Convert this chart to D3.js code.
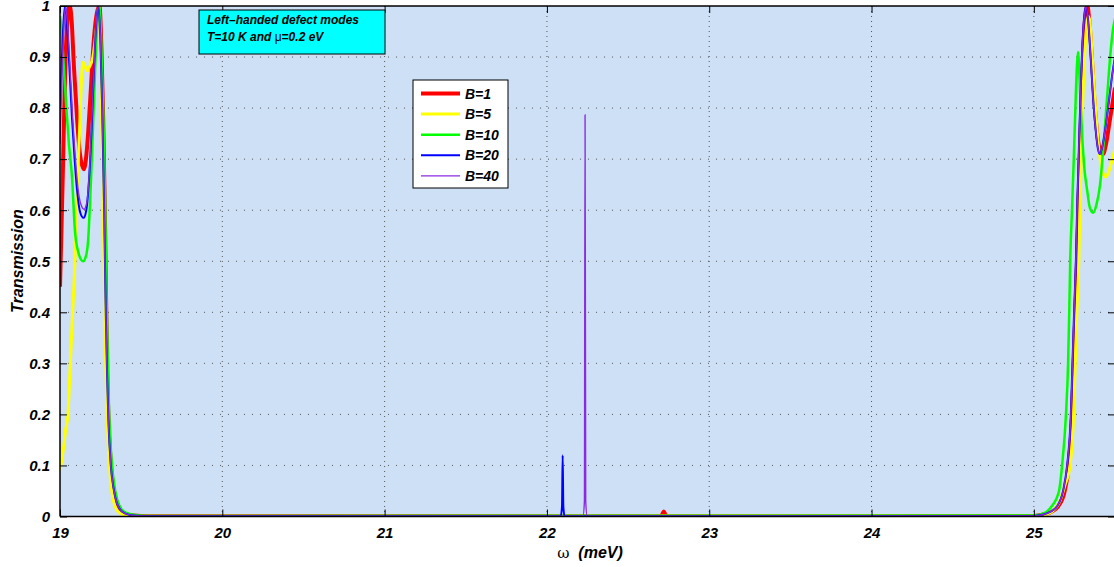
<!DOCTYPE html>
<meta charset="utf-8">
<style>
body { margin: 0; background: #fff; }
text { font-family: "Liberation Sans", Arial, sans-serif; }
</style>
<body>
<script src="https://cdn.jsdelivr.net/npm/d3@7"></script>
<script>
// transmission curves, [omega (meV), T]
var b1 = [[19.0,0.45],[19.008,0.55],[19.018,0.68],[19.03,0.85],[19.045,0.97],[19.06,1.0],[19.072,0.97],[19.086,0.88],[19.105,0.78],[19.123,0.71],[19.148,0.68],[19.166,0.72],[19.185,0.81],[19.21,0.94],[19.243,1.0],[19.255,0.92],[19.266,0.78],[19.277,0.58],[19.285,0.40],[19.292,0.27],[19.30,0.18],[19.314,0.10],[19.33,0.055],[19.35,0.028],[19.37,0.014],[19.40,0.006],[19.45,0.002],[19.55,0.0005],[22.70,0.0005],[22.712,0.005],[22.72,0.01],[22.728,0.005],[22.74,0.0005],[25.0,0.001],[25.06,0.004],[25.10,0.008],[25.15,0.02],[25.19,0.05],[25.215,0.10],[25.236,0.2],[25.246,0.3],[25.256,0.4],[25.266,0.5],[25.276,0.62],[25.292,0.8],[25.307,0.93],[25.32,0.99],[25.33,1.0],[25.342,0.97],[25.357,0.9],[25.372,0.82],[25.387,0.76],[25.405,0.72],[25.426,0.71],[25.445,0.73],[25.465,0.77],[25.485,0.81],[25.50,0.84]];
var b5 = [[19.0,0.09],[19.02,0.13],[19.035,0.17],[19.049,0.2],[19.062,0.29],[19.075,0.38],[19.092,0.5],[19.105,0.63],[19.123,0.78],[19.135,0.87],[19.142,0.89],[19.15,0.885],[19.167,0.873],[19.18,0.88],[19.203,0.9],[19.222,0.95],[19.234,0.99],[19.24,1.0],[19.25,0.9],[19.26,0.72],[19.27,0.52],[19.28,0.32],[19.29,0.2],[19.30,0.12],[19.315,0.06],[19.33,0.03],[19.35,0.013],[19.38,0.005],[19.43,0.001],[19.5,0.0003],[25.0,0.001],[25.06,0.003],[25.12,0.012],[25.16,0.03],[25.19,0.06],[25.223,0.1],[25.245,0.2],[25.255,0.3],[25.265,0.4],[25.277,0.5],[25.285,0.62],[25.30,0.8],[25.318,0.93],[25.335,0.98],[25.345,0.97],[25.36,0.9],[25.38,0.8],[25.40,0.72],[25.42,0.68],[25.439,0.665],[25.455,0.67],[25.475,0.69],[25.50,0.72]];
var b10 = [[19.0,0.98],[19.008,0.96],[19.02,0.9],[19.037,0.81],[19.055,0.73],[19.074,0.665],[19.092,0.56],[19.111,0.52],[19.142,0.5],[19.16,0.51],[19.173,0.54],[19.191,0.66],[19.21,0.82],[19.225,0.94],[19.242,1.0],[19.254,0.93],[19.266,0.8],[19.278,0.62],[19.287,0.43],[19.295,0.3],[19.303,0.2],[19.318,0.11],[19.335,0.06],[19.355,0.03],[19.375,0.016],[19.41,0.007],[19.46,0.003],[19.55,0.001],[25.0,0.002],[25.06,0.006],[25.11,0.02],[25.155,0.05],[25.174,0.1],[25.198,0.2],[25.211,0.3],[25.218,0.4],[25.224,0.5],[25.235,0.6],[25.246,0.7],[25.256,0.8],[25.265,0.88],[25.272,0.91],[25.285,0.83],[25.297,0.75],[25.312,0.68],[25.328,0.64],[25.345,0.605],[25.365,0.595],[25.385,0.61],[25.408,0.65],[25.43,0.73],[25.451,0.82],[25.47,0.9],[25.488,0.955],[25.50,0.975]];
var b20 = [[19.0,0.8],[19.012,0.9],[19.022,0.97],[19.031,1.0],[19.042,0.97],[19.058,0.88],[19.074,0.78],[19.09,0.70],[19.105,0.64],[19.125,0.595],[19.145,0.585],[19.162,0.6],[19.179,0.66],[19.195,0.76],[19.21,0.88],[19.222,0.96],[19.236,1.0],[19.248,0.94],[19.26,0.8],[19.272,0.6],[19.282,0.4],[19.29,0.28],[19.298,0.19],[19.313,0.1],[19.33,0.055],[19.35,0.027],[19.37,0.014],[19.40,0.006],[19.45,0.002],[19.55,0.0005],[22.085,0.0005],[22.093,0.02],[22.097,0.12],[22.101,0.02],[22.109,0.0005],[25.0,0.001],[25.06,0.004],[25.10,0.009],[25.143,0.02],[25.18,0.05],[25.205,0.10],[25.228,0.2],[25.238,0.3],[25.248,0.4],[25.259,0.5],[25.268,0.62],[25.285,0.8],[25.30,0.93],[25.315,0.99],[25.322,1.0],[25.335,0.97],[25.35,0.9],[25.365,0.82],[25.38,0.76],[25.395,0.72],[25.408,0.71],[25.425,0.73],[25.445,0.77],[25.465,0.82],[25.485,0.87],[25.50,0.9]];
var b40 = [[19.0,0.73],[19.012,0.86],[19.024,0.96],[19.034,1.0],[19.045,0.97],[19.06,0.89],[19.078,0.78],[19.095,0.70],[19.11,0.645],[19.13,0.61],[19.148,0.602],[19.165,0.615],[19.18,0.67],[19.195,0.77],[19.21,0.88],[19.222,0.96],[19.236,1.0],[19.248,0.94],[19.26,0.8],[19.272,0.6],[19.282,0.4],[19.29,0.28],[19.298,0.19],[19.313,0.1],[19.33,0.055],[19.35,0.027],[19.37,0.014],[19.40,0.006],[19.45,0.002],[19.55,0.0005],[22.222,0.0005],[22.231,0.03],[22.235,0.787],[22.239,0.03],[22.248,0.0005],[25.0,0.001],[25.06,0.004],[25.10,0.009],[25.143,0.02],[25.18,0.05],[25.205,0.10],[25.228,0.2],[25.238,0.3],[25.248,0.4],[25.259,0.5],[25.268,0.62],[25.285,0.8],[25.30,0.93],[25.315,0.99],[25.322,1.0],[25.335,0.97],[25.35,0.9],[25.365,0.82],[25.38,0.76],[25.395,0.72],[25.408,0.71],[25.425,0.73],[25.445,0.77],[25.465,0.82],[25.485,0.87],[25.50,0.9]];

var seriesNames = ["B=1", "B=5", "B=10", "B=20", "B=40"];
var xTicks = [19, 20, 21, 22, 23, 24, 25];
var yTicks = [0, 0.1, 0.2, 0.3, 0.4, 0.5, 0.6, 0.7, 0.8, 0.9, 1];

var colors = ["#ff0000", "#ffff00", "#00ff00", "#0000ff", "#8a2be2"],
	widths = [4, 3, 2.5, 2, 1.4];

var width = 1114,
	height = 567,
	pLeft = 60,
	pTop = 6,
	pRight = 1115,
	pBottom = 516.5;

var svg = d3.select("body").append("svg")
			.attr("width", width)
			.attr("height", height);

var x = d3.scaleLinear().domain([19, 25.5]).range([pLeft, pRight]),
	y = d3.scaleLinear().domain([0, 1]).range([pBottom, pTop]);

svg.append("defs").append("clipPath").attr("id", "clip")
	.append("rect")
	.attr("x", pLeft).attr("y", pTop)
	.attr("width", pRight - pLeft).attr("height", pBottom - pTop);

svg.append("rect")
	.attr("x", pLeft).attr("y", pTop)
	.attr("width", pRight - pLeft).attr("height", pBottom - pTop)
	.style("fill", "#cde0f6");

// dotted grid
var grid = svg.append("g");
grid.selectAll(".gx").data(xTicks.slice(1)).enter().append("line")
	.attr("x1", d => x(d)).attr("x2", d => x(d))
	.attr("y1", pTop).attr("y2", pBottom)
	.style("stroke", "#555").style("stroke-width", 1)
	.style("stroke-dasharray", "1,4");
grid.selectAll(".gy").data(yTicks.slice(1, -1)).enter().append("line")
	.attr("x1", pLeft).attr("x2", pRight)
	.attr("y1", d => y(d)).attr("y2", d => y(d))
	.style("stroke", "#555").style("stroke-width", 1)
	.style("stroke-dasharray", "1,7");

var line = d3.line()
	.x(d => x(d[0]))
	.y(d => y(d[1]))
	.curve(d3.curveMonotoneX);

var curves = svg.append("g").attr("clip-path", "url(#clip)");
[b1, b5, b10, b20, b40].forEach(function(s, i) {
	curves.append("path")
		.attr("d", line(s))
		.style("fill", "none")
		.style("stroke", colors[i])
		.style("stroke-width", widths[i])
		.style("stroke-linejoin", "round");
});

// axes, ticks pointing inward like matlab
var tickFont = function(g) {
	g.selectAll("text")
		.style("font-family", "'Liberation Sans', Arial, sans-serif")
		.style("font-size", "15px")
		.style("font-weight", "bold")
		.style("font-style", "italic")
		.style("fill", "#000");
	g.selectAll("line").style("stroke", "#000");
	g.select(".domain").remove();
};

svg.append("g")
	.attr("transform", "translate(0," + pBottom + ")")
	.call(d3.axisBottom(x).tickValues(xTicks).tickFormat(d3.format("d")).tickSizeInner(-7).tickPadding(11))
	.call(tickFont);
svg.append("g")
	.attr("transform", "translate(0," + pTop + ")")
	.call(d3.axisTop(x).tickValues(xTicks).tickFormat("").tickSizeInner(-7))
	.call(tickFont);
svg.append("g")
	.attr("transform", "translate(" + pLeft + ",0)")
	.call(d3.axisLeft(y).tickValues(yTicks).tickFormat(d => d === 0 || d === 1 ? d : d3.format(".1f")(d)).tickSizeInner(-7).tickPadding(10))
	.call(tickFont);
svg.append("g")
	.attr("transform", "translate(" + pRight + ",0)")
	.call(d3.axisRight(y).tickValues(yTicks).tickFormat("").tickSizeInner(-7))
	.call(tickFont);

// frame
svg.append("line").attr("x1", pLeft).attr("x2", pRight).attr("y1", pTop).attr("y2", pTop)
	.style("stroke", "#000").style("stroke-width", 1.5);
svg.append("line").attr("x1", pLeft).attr("x2", pRight).attr("y1", pBottom).attr("y2", pBottom)
	.style("stroke", "#000").style("stroke-width", 1.5);
svg.append("line").attr("x1", pLeft).attr("x2", pLeft).attr("y1", pTop).attr("y2", pBottom)
	.style("stroke", "#000").style("stroke-width", 1.5);

// axis titles
var xt = svg.append("text")
	.attr("x", 590).attr("y", 558)
	.attr("text-anchor", "middle")
	.style("font-size", "16px");
xt.append("tspan").text("ω").style("font-family", "'DejaVu Serif', serif").style("font-size", "15px");
xt.append("tspan").text("  (meV)").style("font-weight", "bold").style("font-style", "italic").attr("xml:space", "preserve");

svg.append("text")
	.attr("transform", "translate(23,261)rotate(-90)")
	.attr("text-anchor", "middle")
	.style("font-size", "16px")
	.style("font-weight", "bold")
	.style("font-style", "italic")
	.text("Transmission");

// annotation box
svg.append("rect")
	.attr("x", 199).attr("y", 10).attr("width", 186).attr("height", 44)
	.style("fill", "#00ffff").style("stroke", "#000").style("stroke-width", 1);
var note = svg.append("text")
	.style("font-size", "12px")
	.style("font-weight", "bold")
	.style("font-style", "italic");
note.append("tspan").attr("x", 207).attr("y", 24).text("Left\u2013handed defect modes");
var l2 = note.append("tspan").attr("x", 207).attr("y", 41);
l2.append("tspan").text("T=10 K and ");
l2.append("tspan").text("μ").style("font-weight", "normal").style("font-style", "normal");
l2.append("tspan").text("=0.2 eV");

// legend
var legend = svg.append("g");
legend.append("rect")
	.attr("x", 413).attr("y", 80).attr("width", 95).attr("height", 108)
	.style("fill", "#fff").style("stroke", "#000").style("stroke-width", 1);
seriesNames.forEach(function(n, i) {
	var ly = 93.5 + i * 20.6;
	legend.append("line")
		.attr("x1", 421).attr("x2", 460).attr("y1", ly).attr("y2", ly)
		.style("stroke", colors[i]).style("stroke-width", widths[i]);
	legend.append("text")
		.attr("x", 465).attr("y", ly + 5)
		.style("font-size", "14px")
		.style("font-weight", "bold")
		.style("font-style", "italic")
		.text(n);
});
</script>
</body>
